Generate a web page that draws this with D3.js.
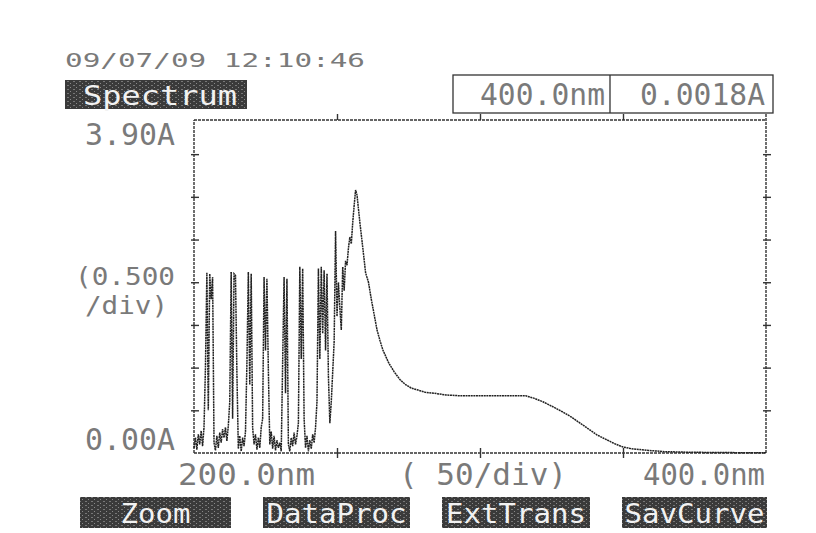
<!DOCTYPE html>
<html>
<head>
<meta charset="utf-8">
<script src="https://cdn.jsdelivr.net/npm/d3@7"></script>
<style>
  html, body { margin: 0; padding: 0; background: #fff; }
  svg text { font-family: "DejaVu Sans Mono", monospace; }
</style>
</head>
<body>
<div id="chart"></div>
<script>
// spectrum (nm, absorbance)
const wavelengths = [
  200.0, 200.5, 201.0, 201.5, 202.0, 202.5, 203.0, 203.5, 204.0, 204.5,
  205.0, 205.5, 206.0, 206.5, 207.0, 207.5, 208.0, 208.5, 209.0, 209.5,
  210.0, 210.5, 211.0, 211.5, 212.0, 212.5, 213.0, 213.5, 214.0, 214.5,
  215.0, 215.5, 216.0, 216.5, 217.0, 217.5, 218.0, 218.5, 219.0, 219.5,
  220.0, 220.5, 221.0, 221.5, 222.0, 222.5, 223.0, 223.5, 224.0, 224.5,
  225.0, 225.5, 226.0, 226.5, 227.0, 227.5, 228.0, 228.5, 229.0, 229.5,
  230.0, 230.5, 231.0, 231.5, 232.0, 232.5, 233.0, 233.5, 234.0, 234.5,
  235.0, 235.5, 236.0, 236.5, 237.0, 237.5, 238.0, 238.5, 239.0, 239.5,
  240.0, 240.5, 241.0, 241.5, 242.0, 242.5, 243.0, 243.5, 244.0, 244.5,
  245.0, 245.5, 246.0, 246.5, 247.0, 247.5, 248.0, 248.5, 249.0, 249.5,
  250.0, 250.5, 251.0, 251.5, 252.0, 252.5, 253.0, 253.5, 254.0, 254.5,
  255.0, 255.5, 256.0, 256.5, 257.0,
  258, 259, 260, 261, 262, 263, 264, 265, 266, 268,
  270, 272, 274, 276, 278, 281, 284, 288, 293, 300,
  308, 316, 319, 322, 325, 329, 332, 335, 338, 341,
  344, 347, 350, 353, 356, 359, 365, 375, 390, 400
];
const absorbance = [
  0.06, 0.18, 0.04, 0.22, 0.10, 0.26, 0.08, 0.30, 1.00, 2.11,
  0.50, 2.10, 1.80, 2.06, 0.12, 0.03, 0.20, 0.06, 0.24, 0.12,
  0.28, 0.18, 0.30, 0.14, 0.32, 0.60, 2.12, 0.40, 2.10, 2.08,
  0.94, 0.05, 0.20, 0.02, 0.18, 0.08, 0.25, 1.05, 2.12, 0.80,
  2.10, 0.30, 0.10, 0.22, 0.04, 0.18, 0.06, 0.30, 0.40, 2.06,
  1.20, 2.04, 0.97, 0.10, 0.25, 0.05, 0.20, 0.03, 0.15, 0.06,
  0.12, 0.02, 1.07, 2.06, 0.70, 2.04, 0.10, 0.02, 0.18, 0.08,
  0.24, 0.10, 0.20, 0.35, 2.18, 1.10, 2.16, 0.40, 0.06, 0.20,
  0.02, 0.15, 0.05, 0.22, 0.12, 0.30, 0.60, 2.16, 1.10, 2.18,
  1.40, 2.14, 1.20, 2.10, 0.90, 0.35, 0.60, 0.95, 1.30, 2.60,
  1.60, 2.00, 1.70, 1.44, 2.18, 1.90, 2.25, 2.20, 2.40, 2.53,
  2.45, 2.70, 2.90, 3.08, 3.02,
  2.70, 2.41, 2.11, 2.00, 1.80, 1.62, 1.44, 1.32, 1.21, 1.06,
  0.95, 0.86, 0.80, 0.76, 0.74, 0.71, 0.70, 0.68, 0.67, 0.67,
  0.67, 0.67, 0.64, 0.60, 0.55, 0.48, 0.42, 0.35, 0.28, 0.21,
  0.16, 0.11, 0.07, 0.05, 0.04, 0.03, 0.015, 0.008, 0.004, 0.0018
];

const yTicks = [0.5, 1.0, 1.5, 2.0, 2.5, 3.0, 3.5];
const xTicks = [250, 300, 350];
const buttons = ["Zoom", "DataProc", "ExtTrans", "SavCurve"];
const timestamp = "09/07/09 12:10:46";
const readout = ["400.0nm", "0.0018A"];

const W = 816, H = 533;
const ink = "#333";
const textInk = "#7a7a7a";
const svg = d3.select("#chart").append("svg")
    .attr("width", W).attr("height", H)
    .attr("viewBox", [0, 0, W, H]);

// Шкалы
const x = d3.scaleLinear().domain([200, 400]).range([194, 766]);
const y = d3.scaleLinear().domain([0, 3.9]).range([453, 120]);

// speckle texture for the dark printed boxes
const defs = svg.append("defs");
const pat = defs.append("pattern").attr("id", "speck")
    .attr("width", 6).attr("height", 4).attr("patternUnits", "userSpaceOnUse");
pat.append("rect").attr("width", 6).attr("height", 4).attr("fill", "#3a3a3a");
pat.append("rect").attr("x", 1).attr("y", 1).attr("width", 2).attr("height", 1).attr("fill", "#777");
pat.append("rect").attr("x", 4).attr("y", 3).attr("width", 1).attr("height", 1).attr("fill", "#888");

function label(txt, xp, yp, len, size, opts = {}) {
    return svg.append("text")
        .attr("x", xp).attr("y", yp)
        .attr("font-size", size)
        .attr("fill", opts.fill || textInk)
        .attr("textLength", len)
        .attr("lengthAdjust", "spacingAndGlyphs")
        .text(txt);
}

// header
label(timestamp, 65, 67, 300, 19);
svg.append("rect").attr("x", 65).attr("y", 80).attr("width", 182).attr("height", 29)
    .attr("fill", "url(#speck)");
label("Spectrum", 83, 105, 154, 27, { fill: "#f2f2f2" });

// readout box
svg.append("rect").attr("x", 453).attr("y", 75).attr("width", 320).attr("height", 38)
    .attr("fill", "none").attr("stroke", ink).attr("stroke-width", 1.3);
svg.append("line").attr("x1", 610).attr("x2", 610).attr("y1", 75).attr("y2", 113)
    .attr("stroke", ink).attr("stroke-width", 1.3);
label(readout[0], 480, 105, 125, 30);
label(readout[1], 640, 105, 125, 30);

// frame + axes
const frame = svg.append("g").attr("stroke", ink).attr("stroke-width", 1.4)
    .attr("stroke-dasharray", "3,1");
frame.append("line").attr("x1", x(200)).attr("x2", x(400)).attr("y1", y(3.9)).attr("y2", y(3.9));
frame.append("line").attr("x1", x(200)).attr("x2", x(400)).attr("y1", y(0)).attr("y2", y(0));
frame.append("line").attr("x1", x(200)).attr("x2", x(200)).attr("y1", y(0)).attr("y2", y(3.9));
frame.append("line").attr("x1", x(400)).attr("x2", x(400)).attr("y1", y(0)).attr("y2", 113);

function tickAxis(axis, tx, ty) {
    const g = svg.append("g").attr("transform", `translate(${tx},${ty})`).call(axis);
    g.select(".domain").remove();
    g.selectAll("line").attr("stroke", ink).attr("stroke-width", 1.4);
    return g;
}
// ticks on the left/right edges cross the line
tickAxis(d3.axisLeft(y).tickValues(yTicks).tickSize(3).tickFormat(""), x(200), 0);
tickAxis(d3.axisRight(y).tickValues(yTicks).tickSize(5).tickFormat(""), x(200), 0);
tickAxis(d3.axisLeft(y).tickValues(yTicks).tickSize(3).tickFormat(""), x(400), 0);
tickAxis(d3.axisRight(y).tickValues(yTicks).tickSize(5).tickFormat(""), x(400), 0);
tickAxis(d3.axisBottom(x).tickValues(xTicks).tickSize(-6).tickFormat(""), 0, y(3.9));
tickAxis(d3.axisBottom(x).tickValues(xTicks).tickSize(5).tickFormat(""), 0, y(0));
tickAxis(d3.axisTop(x).tickValues(xTicks).tickSize(5).tickFormat(""), 0, y(0));

// axis text
label("3.90A", 85, 145, 90, 30);
label("(0.500", 75, 285, 100, 25);
label("/div)", 85, 314, 83, 25);
label("0.00A", 85, 450, 90, 30);
label("200.0nm", 178, 485, 137, 30);
label("( 50/div)", 399, 485, 168, 30);
label("400.0nm", 643, 485, 122, 30);

// spectrum
const pts = wavelengths.map((w, i) => [w, absorbance[i]]);
svg.append("path")
    .datum(pts)
    .attr("fill", "none")
    .attr("stroke", "#222")
    .attr("stroke-width", 1.5)
    .attr("stroke-dasharray", "2,0.6")
    .attr("d", d3.line().x(d => x(d[0])).y(d => y(d[1])));

// soft-key buttons
const btnX = [80, 263, 442, 622];
const btnW = [151, 147, 148, 145];
buttons.forEach((b, i) => {
    svg.append("rect").attr("x", btnX[i]).attr("y", 497).attr("width", btnW[i]).attr("height", 31)
        .attr("fill", "url(#speck)");
    const len = b.length * 17.5;
    label(b, btnX[i] + (btnW[i] - len) / 2, 523, len, 27, { fill: "#f2f2f2" });
});
</script>
</body>
</html>
